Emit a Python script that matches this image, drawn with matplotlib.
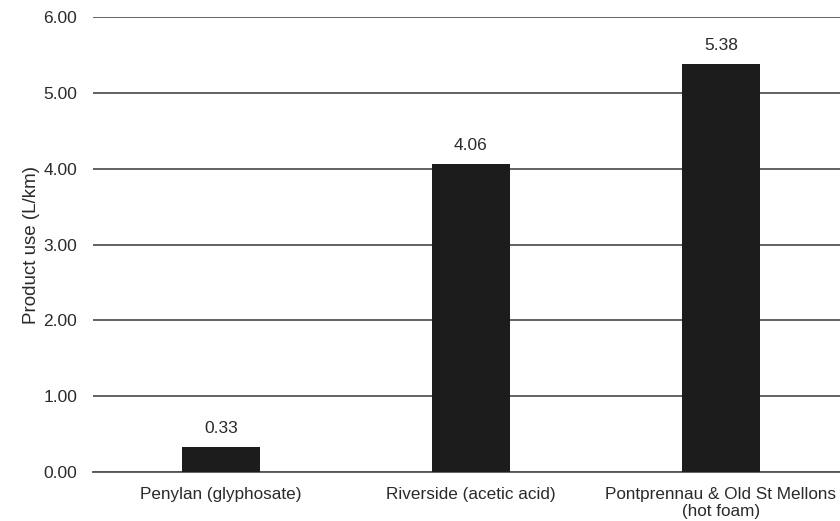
import matplotlib.pyplot as plt

plt.rcParams['font.family'] = ['Liberation Sans', 'DejaVu Sans']

# categories and values
sites = ["Penylan (glyphosate)", "Riverside (acetic acid)",
         "Pontprennau & Old St Mellons\n(hot foam)"]
product_use = [0.33, 4.06, 5.38]
yticks = [0, 1, 2, 3, 4, 5, 6]

fig = plt.figure(figsize=(8.4, 5.21), dpi=100)
ax = fig.add_axes([0.1107, 0.094, 0.8893, 0.8734])

x = range(len(sites))
ax.bar(x, product_use, width=0.31, color="#1c1c1c", zorder=3)
for xi, v in zip(x, product_use):
    ax.annotate(f"{v:.2f}", (xi, v), xytext=(0, 8), textcoords="offset points",
                ha="center", va="bottom", fontsize=12.5, color="#2a2a2a")

ax.set_xlim(-0.512, 2.476)
ax.set_ylim(0, 6)
ax.set_yticks(yticks)
ax.set_yticklabels([f"{t:.2f}" for t in yticks], fontsize=12.5, color="#2a2a2a")
ax.set_xticks(list(x))
ax.set_xticklabels(sites, fontsize=12.3, color="#2a2a2a", linespacing=1.2)
ax.tick_params(axis="y", length=0, pad=11.5)
ax.tick_params(axis="x", length=0, pad=10.5)
ax.yaxis.grid(True, color="#555555", linewidth=1.3, zorder=0)
for s in ["top", "right", "left"]:
    ax.spines[s].set_visible(False)
ax.spines["bottom"].set_color("#555555")
ax.spines["bottom"].set_linewidth(1.3)
ax.set_ylabel("Product use (L/km)", fontsize=13.5, color="#2a2a2a", labelpad=2)

fig.savefig("out.png", dpi=100)
